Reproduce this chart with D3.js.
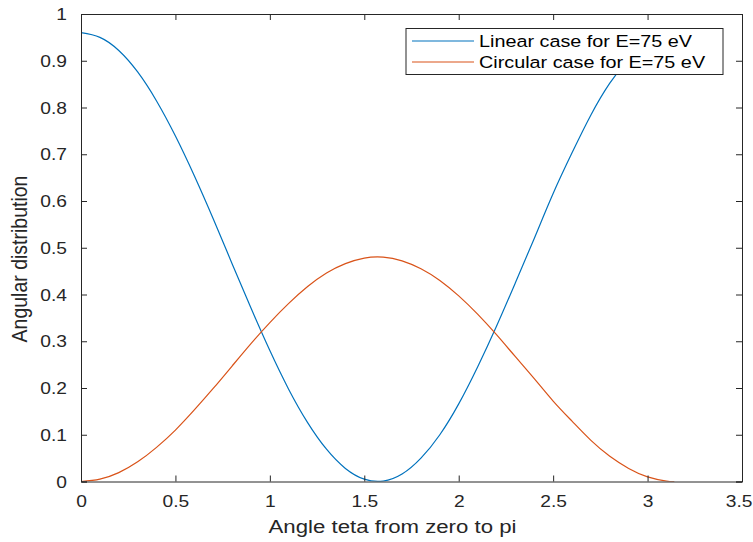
<!DOCTYPE html>
<html><head><meta charset="utf-8">
<script src="https://cdn.jsdelivr.net/npm/d3@7"></script>
<style>body{margin:0;background:#fff}svg{display:block}</style>
</head><body>
<svg id="c" width="753" height="542"></svg>
<script>
const theta = [0,0.1,0.2,0.3,0.4,0.5,0.6,0.7,0.8,0.9,1.0,1.1,1.2,1.3,1.4,1.5,1.6,1.7,1.8,1.9,2.0,2.1,2.2,2.3,2.4,2.5,2.6,2.7,2.8,2.9,3.0,3.1,3.1416];
const linearVals = [0.960,0.950,0.922,0.876,0.814,0.739,0.654,0.562,0.466,0.371,0.280,0.197,0.126,0.069,0.028,0.005,0.001,0.016,0.050,0.100,0.166,0.245,0.332,0.425,0.520,0.616,0.703,0.784,0.852,0.904,0.941,0.958,0.960];
const circularVals = [0,0.005,0.019,0.042,0.073,0.110,0.153,0.199,0.247,0.295,0.340,0.381,0.417,0.446,0.466,0.478,0.480,0.472,0.455,0.430,0.397,0.358,0.314,0.267,0.220,0.172,0.129,0.088,0.054,0.028,0.010,0.001,0];
const seriesNames = ["Linear case for E=75 eV","Circular case for E=75 eV"];
const xTicks = [0,0.5,1,1.5,2,2.5,3,3.5];
const yTicks = [0,0.1,0.2,0.3,0.4,0.5,0.6,0.7,0.8,0.9,1];

const svg = d3.select("#c");
const L=81,T=14,R=742,B=481.5;
const SX=1.2; // horizontal stretch of the reference text
const x = d3.scaleLinear().domain([0,3.5]).range([L,R]);
const y = d3.scaleLinear().domain([0,1]).range([B,T]);
const axisColor="#262626";
const font="'Liberation Sans', Arial, Helvetica, sans-serif";

svg.append("defs").append("clipPath").attr("id","clip").append("rect")
  .attr("x",L).attr("y",T).attr("width",R-L).attr("height",B-T);

const line = d3.line().x((d,i)=>x(theta[i])).y(d=>y(d)).curve(d3.curveNatural);
const colors=["#0072BD","#D95319"];
[linearVals,circularVals].forEach((vals,k)=>{
  svg.append("path").attr("d",line(vals)).attr("fill","none")
    .attr("stroke",colors[k]).attr("stroke-width",1.2).attr("clip-path","url(#clip)");
});

// axes
const tl=6;
const gx=svg.append("g").attr("transform",`translate(0,${B})`)
  .call(d3.axisBottom(x).tickValues(xTicks).tickSize(-tl).tickFormat(d3.format("")));
const gxt=svg.append("g").attr("transform",`translate(0,${T})`)
  .call(d3.axisTop(x).tickValues(xTicks).tickSize(-tl).tickFormat(""));
const gy=svg.append("g").attr("transform",`translate(${L},0)`)
  .call(d3.axisLeft(y).tickValues(yTicks).tickSize(-tl).tickFormat(d3.format("")));
const gyr=svg.append("g").attr("transform",`translate(${R},0)`)
  .call(d3.axisRight(y).tickValues(yTicks).tickSize(-tl).tickFormat(""));
[gx,gxt,gy,gyr].forEach(g=>{
  g.select(".domain").attr("stroke",axisColor).attr("stroke-width",1);
  g.selectAll(".tick line").attr("stroke",axisColor);
  g.selectAll("text").attr("fill",axisColor).style("font-family",font).style("font-size","16px");
});
gx.selectAll("text").attr("y",0).attr("dy",0).attr("x",0)
  .attr("transform",`translate(0,25.5) scale(${SX},1)`);
// keep the last tick label inside the picture, as in the reference
gx.selectAll(".tick").filter(d=>d===3.5).select("text")
  .attr("text-anchor","end").attr("transform",`translate(${752-x(3.5)},25.5) scale(${SX},1)`);
gy.selectAll("text").attr("x",0).attr("dy","0.35em")
  .attr("transform",`translate(-14,0) scale(${SX},1)`);

svg.append("text").attr("transform",`translate(${(L+R)/2-19},533) scale(${SX},1)`).attr("text-anchor","middle")
  .attr("fill",axisColor).style("font-family",font).style("font-size","18.5px")
  .text("Angle teta from zero to pi");
svg.append("text").attr("transform",`translate(27,259) scale(1.1,1) rotate(-90)`).attr("text-anchor","middle")
  .attr("fill",axisColor).style("font-family",font).style("font-size","19.5px")
  .text("Angular distribution");

// legend
const lg=svg.append("g");
lg.append("rect").attr("x",406).attr("y",28.5).attr("width",317).attr("height",46)
  .attr("fill","#fff").attr("stroke",axisColor).attr("stroke-width",1);
seriesNames.forEach((n,i)=>{
  const yy=41+i*21;
  lg.append("line").attr("x1",412).attr("x2",474).attr("y1",yy).attr("y2",yy)
    .attr("stroke",colors[i]).attr("stroke-width",1.2);
  lg.append("text").attr("transform",`translate(479,${yy}) scale(${SX},1)`).attr("dy","0.35em")
    .attr("fill","#000").style("font-family",font).style("font-size","16.5px").text(n);
});
</script>
</body></html>
